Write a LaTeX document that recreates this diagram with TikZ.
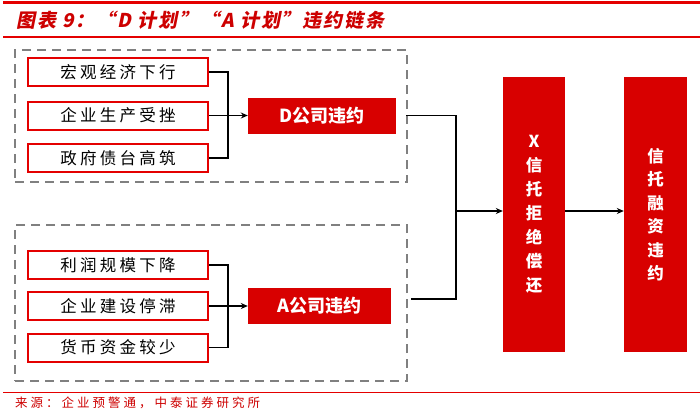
\documentclass[tikz,border=0pt]{standalone}
\usepackage{fontspec}
\setmainfont{Noto Sans CJK SC}
\newfontfamily\titlefont[FakeSlant=0.2,LetterSpace=10]{Noto Sans CJK SC}
\newfontfamily\boxfont[LetterSpace=20]{Noto Sans CJK SC}
\newfontfamily\srcfont[LetterSpace=24]{Noto Sans CJK SC}
\usetikzlibrary{arrows.meta}
\definecolor{boxred}{RGB}{216,0,0}
\definecolor{linered}{RGB}{228,0,0}
\definecolor{titlered}{RGB}{205,0,0}
\definecolor{dashgray}{RGB}{128,128,128}
\tikzset{
  cause/.style={draw=linered, line width=2pt, fill=white, minimum width=180pt, minimum height=28pt, inner sep=0pt, font=\boxfont\fontsize{16.5}{18}\selectfont},
  redbox/.style={draw=none, fill=boxred, text=white, inner sep=0pt, font=\bfseries\fontsize{18}{20}\selectfont},
  group/.style={draw=dashgray, line width=2pt, dash pattern=on 9pt off 6pt, minimum width=392pt, inner sep=0pt},
  conn/.style={draw=black, line width=1.8pt},
  arr/.style={conn, -{Stealth[length=7pt,width=6pt]}},
}
\begin{document}
\begin{tikzpicture}[x=1pt,y=-1pt]
\useasboundingbox (0,0) rectangle (700,413);
% header rules
\draw[linered, line width=3pt] (3,2.5) -- (700,2.5);
\draw[linered, line width=1.2pt] (3,37) -- (700,37);
\draw[linered, line width=1pt] (3,392) -- (700,392);
\node[anchor=west, inner sep=0pt, text=titlered, font=\titlefont\bfseries\fontsize{19}{21}\selectfont] (title) at (16,20) {图表 9：“D 计划”“A 计划”违约链条};
\node[anchor=west, inner sep=0pt, text=titlered, font=\srcfont\fontsize{12.5}{14}\selectfont] (src) at (15,403) {来源：企业预警通，中泰证券研究所};
% groups
\node[group, minimum height=132pt] (dD) at (211,116) {};
\node[group, minimum height=156pt] (dA) at (211,303) {};
% D chain
\node[cause] (d1) at (118,72) {宏观经济下行};
\node[cause] (d2) at (118,115.5) {企业生产受挫};
\node[cause] (d3) at (118,158) {政府债台高筑};
\node[redbox, minimum width=148pt, minimum height=36pt] (D) at (322,115.5) {D公司违约};
\coordinate (jD) at (228,115.5);
\draw[conn] (d1.east) -| (jD);
\draw[conn] (d3.east) -| (jD);
\draw[arr] (d2.east) -- (D.west);
% A chain
\node[cause] (a1) at (118,265) {利润规模下降};
\node[cause] (a2) at (118,306) {企业建设停滞};
\node[cause] (a3) at (118,347.5) {货币资金较少};
\node[redbox, minimum width=143pt, minimum height=36pt] (A) at (319.5,306) {A公司违约};
\coordinate (jA) at (228,306);
\draw[conn] (a1.east) -| (jA);
\draw[conn] (a3.east) -| (jA);
\draw[arr] (a2.east) -- (A.west);
% right part
\node[redbox, minimum width=62pt, minimum height=275pt, align=center, font=\bfseries\fontsize{16.5}{24}\selectfont] (X) at (534,214.5) {X\\信\\托\\拒\\绝\\偿\\还};
\node[redbox, minimum width=63pt, minimum height=275pt, align=center, font=\bfseries\fontsize{16.5}{23.5}\selectfont] (F) at (655.5,214.5) {信\\托\\融\\资\\违\\约};
\coordinate (oD) at (406,115.5);
\coordinate (oA) at (411,299);
\coordinate (jX) at (456,211);
\draw[conn] (oD) -| (jX);
\draw[conn] (oA) -| (jX);
\draw[arr] (jX) -- (X.west |- jX);
\draw[arr] (X.east |- jX) -- (F.west |- jX);
\end{tikzpicture}
\end{document}
